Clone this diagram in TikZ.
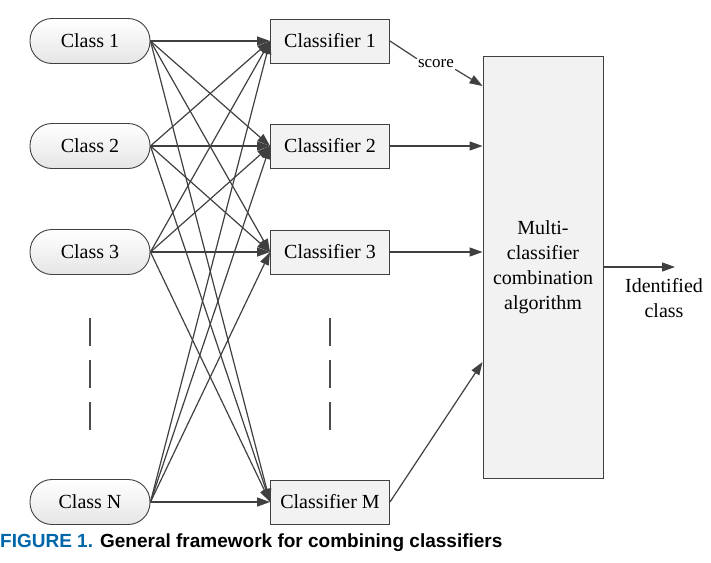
\documentclass[tikz,border=0pt]{standalone}
\usepackage{fontspec}
\setmainfont{Liberation Serif}
\newfontfamily\capfont{Liberation Sans}
\usetikzlibrary{arrows.meta}
\definecolor{capblue}{RGB}{0,102,170}
\begin{document}
\begin{tikzpicture}[x=1pt,y=-1pt,
  cls/.style={draw=black!75,line width=0.9pt,rounded corners=22pt,minimum width=120pt,minimum height=45pt,top color=white,bottom color=black!10,font=\fontsize{20}{22}\selectfont},
  clf/.style={draw=black!75,line width=0.9pt,minimum width=119pt,minimum height=44pt,fill=black!5,font=\fontsize{20}{22}\selectfont},
  con/.style={draw=black!75,line width=1.2pt,-{Triangle[length=13pt,width=9pt]}},
  dsh/.style={draw=black!70,line width=1.1pt,dash pattern=on 28pt off 14pt}]
\useasboundingbox (0,0) rectangle (711,562);
\node[cls] (c1) at (90,41) {Class 1};
\node[cls] (c2) at (90,146) {Class 2};
\node[cls] (c3) at (90,252) {Class 3};
\node[cls] (cn) at (90,502) {Class N};
\node[clf] (k1) at (330,41) {Classifier 1};
\node[clf] (k2) at (330,146) {Classifier 2};
\node[clf] (k3) at (330,252) {Classifier 3};
\node[clf] (km) at (330,502) {Classifier M};
\node[draw=black!75,line width=0.9pt,fill=black!5,minimum width=120pt,minimum height=422pt,align=center,font=\fontsize{20}{25}\selectfont] (alg) at (543,267) {Multi-\\classifier\\combination\\algorithm};
\node[align=center,font=\fontsize{20}{25}\selectfont] (id) at (664,298) {Identified\\class};
\node[font=\fontsize{17}{19}\selectfont,inner sep=1pt] (sc) at (436,64) {score};
\coordinate (o) at (675,267);
\foreach \a in {c1,c2,c3,cn}{
  \foreach \b in {k1,k2,k3,km}{
    \draw[con] (\a.east) -- (\b.west);
  }
}
\draw[draw=black!75,line width=1.2pt] (k1.east) -- (sc.north west);
\draw[con] (sc.south east) -- (alg.north west |- 0,86);
\draw[con] (k2.east) -- (alg.west |- k2);
\draw[con] (k3.east) -- (alg.west |- k3);
\draw[con] (km.east) -- (alg.west |- 0,362);
\draw[con] (alg.east |- o) -- (o);
\draw[dsh] (90,318) -- (90,432);
\draw[dsh] (330,318) -- (330,432);
\node[anchor=west,inner sep=0,font=\capfont\bfseries\fontsize{19}{21}\selectfont] (cap) at (0,543) {\textcolor{capblue}{FIGURE 1.} General framework for combining classifiers};
\end{tikzpicture}
\end{document}
